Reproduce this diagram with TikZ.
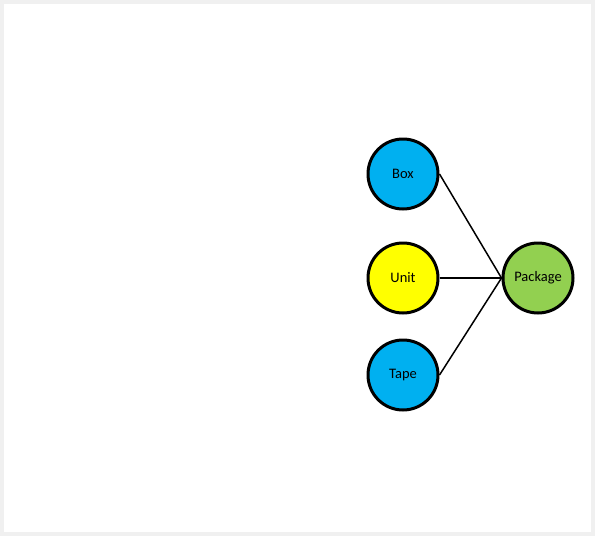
\documentclass[tikz,border=0pt]{standalone}
\usepackage{fontspec}
\setmainfont{Carlito}
\usepackage{tikz}
\definecolor{BoxBlue}{HTML}{00B0F0}
\definecolor{UnitYellow}{HTML}{FFFF00}
\definecolor{PackGreen}{HTML}{92D050}
\definecolor{FrameGray}{HTML}{F0F0F0}
\tikzset{
    ball/.style={circle, draw=black, line width=3pt, minimum size=70pt, inner sep=0pt, font=\fontsize{14.5}{16}\selectfont},
    link/.style={line width=1.5pt}
}

\begin{document}
\begin{tikzpicture}[x=1pt, y=-1pt]
        % frame
        \fill[FrameGray] (0,0) rectangle (595,536);
        \fill[white] (4,4) rectangle (591,532);
        \useasboundingbox (0,0) rectangle (595,536);

        \node (box) at (403,174)[ball, fill=BoxBlue] {Box};
        \node (unit) at (403,278)[ball, fill=UnitYellow] {Unit};
        \node (tape) at (403,375)[ball, fill=BoxBlue] {Tape};
        \node (package) at (538,278)[ball, fill=PackGreen] {Package};

        \draw[link] (box.east) -- (package.west);
        \draw[link] (unit.east) -- (package.west);
        \draw[link] (tape.east) -- (package.west);
    \end{tikzpicture}
\end{document}
